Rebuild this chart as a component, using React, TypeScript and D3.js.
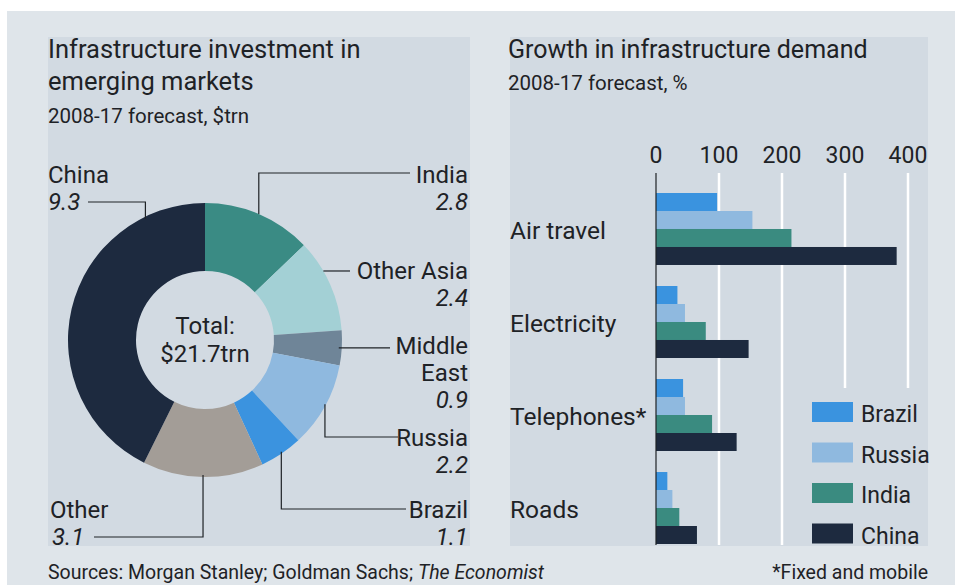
import { useEffect, useRef } from "react";
import * as d3 from "d3";

// donut: clockwise from 12 o'clock
const regions = ["India", "Other Asia", "Middle East", "Russia", "Brazil", "Other", "China"];
const investment = [2.8, 2.4, 0.9, 2.2, 1.1, 3.1, 9.3];
const regionColors = ["#3a8b84", "#a3d0d5", "#6f8598", "#8fb9df", "#3b93df", "#a39d97", "#1d2a3f"];

// bars
const sectors = ["Air travel", "Electricity", "Telephones*", "Roads"];
const countries = ["Brazil", "Russia", "India", "China"];
const countryColors = ["#3a93df", "#8fb9df", "#3a8b80", "#1d2a3f"];
const growth: Record<string, number[]> = {
  Brazil: [97, 34, 43, 18],
  Russia: [153, 46, 46, 26],
  India: [215, 79, 89, 37],
  China: [382, 147, 128, 65],
};
const xTicks = [0, 100, 200, 300, 400];

const FONT = "Roboto, 'Open Sans', sans-serif";
const INK = "#1e2226";

export default function App() {
  const svgRef = useRef<SVGSVGElement>(null);

  useEffect(() => {
    const svg = d3.select(svgRef.current);
    svg.selectAll("*").remove();

    const W = 955, H = 585;
    svg.attr("width", W).attr("height", H).attr("viewBox", `0 0 ${W} ${H}`)
      .style("font-family", FONT);

    svg.append("rect").attr("width", W).attr("height", H).attr("fill", "#fff");
    svg.append("rect").attr("x", 7).attr("y", 11).attr("width", W - 7).attr("height", H - 11).attr("fill", "#dfe5ea");
    svg.append("rect").attr("x", 48).attr("y", 37).attr("width", 422).attr("height", 509).attr("fill", "#d2dae2");
    svg.append("rect").attr("x", 510).attr("y", 37).attr("width", 418).attr("height", 509).attr("fill", "#d2dae2");

    const text = (x: number, y: number, s: string, size: number, anchor = "start", italic = false) =>
      svg.append("text").attr("x", x).attr("y", y).attr("font-size", size)
        .attr("text-anchor", anchor).attr("fill", INK)
        .attr("font-style", italic ? "italic" : "normal").text(s);

    const LBL = 24;

    // titles
    text(48, 58, "Infrastructure investment in", 25.5);
    text(48, 90, "emerging markets", 25.5);
    text(48, 123, "2008-17 forecast, $trn", 20.5);
    text(508, 58, "Growth in infrastructure demand", 25);
    text(508, 90, "2008-17 forecast, %", 20.5);

    // ---- donut ----
    const cx = 205, cy = 340, rOut = 137, rIn = 69;
    const total = d3.sum(investment);
    const pie = d3.pie<number>().sort(null).value(d => d)(investment);
    const arc = d3.arc<d3.PieArcDatum<number>>().innerRadius(rIn).outerRadius(rOut);
    const g = svg.append("g").attr("transform", `translate(${cx},${cy})`);
    g.selectAll("path").data(pie).join("path")
      .attr("d", arc).attr("fill", (_, i) => regionColors[i]);

    text(cx, 334, "Total:", 24, "middle");
    text(cx, 362, `$${d3.format(".1f")(total - 0.1)}trn`, 24, "middle");

    const onArc = (a: number) => [cx + rOut * Math.sin(a), cy - rOut * Math.cos(a)];
    const mid = (i: number) => (pie[i].startAngle + pie[i].endAngle) / 2;
    const line = d3.line();
    const leader = (pts: [number, number][]) =>
      svg.append("path").attr("d", line(pts)).attr("fill", "none").attr("stroke", INK).attr("stroke-width", 1.2);

    const R = 468;
    // India
    {
      const [px, py] = onArc(mid(0));
      leader([[410, 173], [px, 173], [px, py]]);
      text(R, 183, regions[0], LBL, "end");
      text(R, 210, String(investment[0]), LBL, "end", true);
    }
    // Other Asia
    {
      const [px, py] = onArc(mid(1) - 0.11);
      leader([[350, py], [px, py]]);
      text(R, 279, regions[1], LBL, "end");
      text(R, 306, String(investment[1]), LBL, "end", true);
    }
    // Middle East
    {
      const [px, py] = onArc(mid(2));
      leader([[px - 3, py], [390, py]]);
      text(R, 354, "Middle", LBL, "end");
      text(R, 381, "East", LBL, "end");
      text(R, 408, String(investment[2]), LBL, "end", true);
    }
    // Russia
    {
      const [px, py] = onArc(mid(3));
      leader([[px, py - 2], [px, 437], [398, 437]]);
      text(R, 446, regions[3], LBL, "end");
      text(R, 473, String(investment[3]), LBL, "end", true);
    }
    // Brazil
    {
      const [px, py] = onArc(mid(4));
      leader([[px, py - 2], [px, 509], [406, 509]]);
      text(R, 518, regions[4], LBL, "end");
      text(R, 545, String(investment[4]), LBL, "end", true);
    }
    // Other
    {
      const [px, py] = onArc(mid(5));
      leader([[94, 537], [px, 537], [px, py - 2]]);
      text(50, 518, regions[5], LBL);
      text(52, 545, String(investment[5]), LBL, "start", true);
    }
    // China
    {
      const [px, py] = onArc(-0.45);
      leader([[88, 202], [px, 202], [px, py + 2]]);
      text(48, 183, regions[6], LBL);
      text(48, 210, String(investment[6]), LBL, "start", true);
    }

    // ---- bars ----
    const x = d3.scaleLinear().domain([0, 400]).range([656, 908]);
    const y = d3.scaleBand().domain(sectors).range([193, 544]).paddingInner(0.226);
    const yc = d3.scaleBand().domain(countries).range([0, y.bandwidth()]);

    const grid = svg.append("g");
    xTicks.slice(1).forEach(t => {
      grid.append("line").attr("x1", x(t)).attr("x2", x(t))
        .attr("y1", 173).attr("y2", t >= 300 ? 388 : 545)
        .attr("stroke", "#fff").attr("stroke-width", 2.5);
    });
    xTicks.forEach(t => text(x(t), 163, String(t), 23, "middle"));

    sectors.forEach((s, si) => {
      countries.forEach((c, ci) => {
        svg.append("rect")
          .attr("x", x(0)).attr("y", (y(s) ?? 0) + (yc(c) ?? 0))
          .attr("width", x(growth[c][si]) - x(0)).attr("height", yc.bandwidth())
          .attr("fill", countryColors[ci]);
      });
      text(510, (y(s) ?? 0) + y.bandwidth() / 2 + 10, s, 24.5);
    });

    svg.append("line").attr("x1", x(0)).attr("x2", x(0)).attr("y1", 173).attr("y2", 545)
      .attr("stroke", INK).attr("stroke-width", 1.2);

    // legend
    countries.forEach((c, i) => {
      const ly = 402 + i * 40.5;
      svg.append("rect").attr("x", 812).attr("y", ly).attr("width", 41).attr("height", 20)
        .attr("fill", countryColors[i]);
      text(861, ly + 20, c, 23);
    });

    // footer
    const src = svg.append("text").attr("x", 48).attr("y", 579).attr("font-size", 19.5).attr("fill", INK);
    src.append("tspan").text("Sources: Morgan Stanley; Goldman Sachs; ");
    src.append("tspan").attr("font-style", "italic").text("The Economist");
    text(928, 579, "*Fixed and mobile", 19.5, "end");
  }, []);

  return <svg ref={svgRef} style={{ position: "absolute", left: 0, top: 0, display: "block" }} />;
}
